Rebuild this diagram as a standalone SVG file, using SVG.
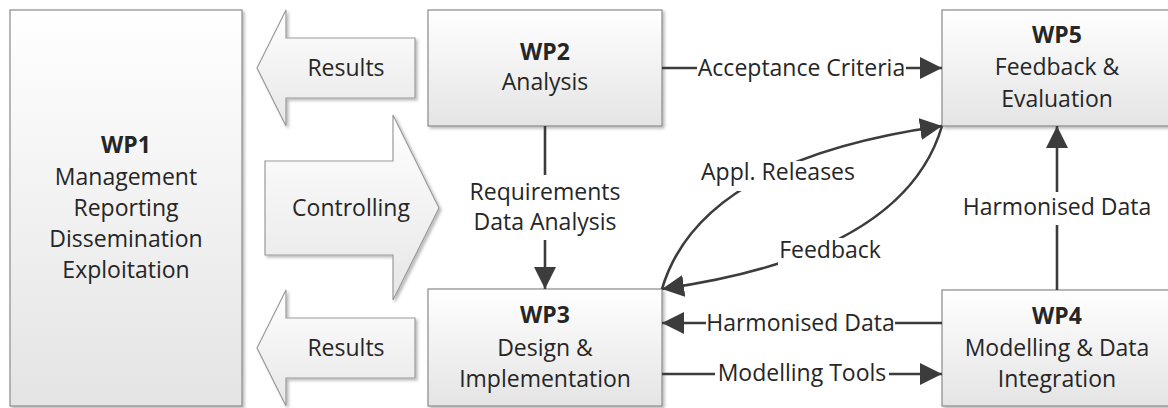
<svg xmlns="http://www.w3.org/2000/svg" width="1168" height="408" viewBox="0 0 1168 408">
<defs>
<linearGradient id="gBox" x1="0" y1="0" x2="0" y2="1">
<stop offset="0" stop-color="#ffffff"/>
<stop offset="1" stop-color="#e4e4e4"/>
</linearGradient>
<linearGradient id="gArr" x1="0" y1="0" x2="0" y2="1">
<stop offset="0" stop-color="#ffffff"/>
<stop offset="1" stop-color="#e6e6e6"/>
</linearGradient>
<filter id="sh" x="-10%" y="-10%" width="130%" height="130%">
<feDropShadow dx="2" dy="2" stdDeviation="1.8" flood-color="#000" flood-opacity="0.28"/>
</filter>
<marker id="ah" markerWidth="24" markerHeight="24" viewBox="0 0 24 24" refX="22" refY="12" orient="auto" markerUnits="userSpaceOnUse">
<path d="M0,1 L22,12 L0,23 Z" fill="#3c3c3c"/>
</marker>
</defs>
<style>
.box{fill:url(#gBox);stroke:#8a8a8a;stroke-width:1.2;filter:url(#sh)}
.blk{fill:url(#gArr);stroke:#9a9a9a;stroke-width:1.2;filter:url(#sh)}
text{font-family:"Open Sans","Liberation Sans",sans-serif;font-size:23px;fill:#262626;text-anchor:middle}
.b{font-weight:700}
.ln{fill:none;stroke:#3c3c3c;stroke-width:2.6}
</style>

<g id="wp1">
<rect class="box" x="10" y="10" width="232" height="396"/>
<text class="b" x="126" y="153">WP1</text>
<text x="126" y="185">Management</text>
<text x="126" y="216">Reporting</text>
<text x="126" y="247">Dissemination</text>
<text x="126" y="278">Exploitation</text>
</g>

<g id="results-top">
<polygon class="blk" points="257,68 286,10 286,38 415,38 415,98 286,98 286,126"/>
<text x="346" y="76">Results</text>
</g>

<g id="controlling">
<polygon class="blk" points="265,161 393,161 393,115 439,208 393,300 393,255 265,255"/>
<text x="351" y="216">Controlling</text>
</g>

<g id="results-bottom">
<polygon class="blk" points="257,348 286,290 286,318 415,318 415,378 286,378 286,406"/>
<text x="346" y="356">Results</text>
</g>

<g id="wp2">
<rect class="box" x="428" y="10" width="234" height="116"/>
<text class="b" x="545" y="60">WP2</text>
<text x="545" y="90">Analysis</text>
</g>

<g id="wp3">
<rect class="box" x="428" y="289" width="234" height="117"/>
<text class="b" x="545" y="323">WP3</text>
<text x="545" y="356">Design &amp;</text>
<text x="545" y="387">Implementation</text>
</g>

<g id="wp5">
<rect class="box" x="942" y="10" width="232" height="116"/>
<text class="b" x="1057" y="43">WP5</text>
<text x="1057" y="75">Feedback &amp;</text>
<text x="1057" y="107">Evaluation</text>
</g>

<g id="wp4">
<rect class="box" x="942" y="290" width="232" height="116"/>
<text class="b" x="1057" y="324">WP4</text>
<text x="1057" y="356">Modelling &amp; Data</text>
<text x="1057" y="387">Integration</text>
</g>

<g id="connectors">
<!-- WP2 -> WP5 Acceptance Criteria -->
<line class="ln" x1="662" y1="68" x2="697" y2="68"/>
<line class="ln" x1="906" y1="68" x2="942" y2="68" marker-end="url(#ah)"/>
<text x="801.5" y="76">Acceptance Criteria</text>

<!-- WP2 -> WP3 -->
<line class="ln" x1="545" y1="126" x2="545" y2="175"/>
<line class="ln" x1="545" y1="240" x2="545" y2="289" marker-end="url(#ah)"/>
<text x="545" y="200">Requirements</text>
<text x="545" y="230">Data Analysis</text>

<!-- WP3 -> WP5 Appl. Releases -->
<path class="ln" d="M662,289 Q700,160 942,126" marker-end="url(#ah)"/>
<rect x="700" y="161" width="156" height="30" fill="#ffffff"/>
<text x="778" y="180">Appl. Releases</text>

<!-- WP5 -> WP3 Feedback -->
<path class="ln" d="M942,126 Q904,255 662,289" marker-end="url(#ah)"/>
<rect x="778" y="238" width="104" height="30" fill="#ffffff"/>
<text x="830" y="258">Feedback</text>

<!-- WP4 -> WP3 Harmonised Data -->
<line class="ln" x1="942" y1="323" x2="895" y2="323"/>
<line class="ln" x1="706" y1="323" x2="662" y2="323" marker-end="url(#ah)"/>
<text x="800.5" y="331">Harmonised Data</text>

<!-- WP3 -> WP4 Modelling Tools -->
<line class="ln" x1="662" y1="374" x2="715" y2="374"/>
<line class="ln" x1="889" y1="374" x2="942" y2="374" marker-end="url(#ah)"/>
<text x="802" y="381">Modelling Tools</text>

<!-- WP4 -> WP5 Harmonised Data -->
<line class="ln" x1="1057" y1="290" x2="1057" y2="225"/>
<line class="ln" x1="1057" y1="192" x2="1057" y2="126" marker-end="url(#ah)"/>
<text x="1057" y="215">Harmonised Data</text>
</g>
</svg>
